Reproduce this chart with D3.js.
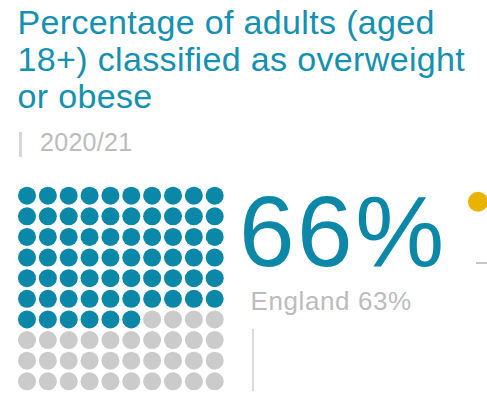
<!DOCTYPE html>
<html>
<head>
<meta charset="utf-8">
<script src="https://cdn.jsdelivr.net/npm/d3@7"></script>
<style>
  html, body { margin: 0; padding: 0; background: #fff; }
  svg { display: block; font-family: "Liberation Sans", Arial, sans-serif; }
</style>
</head>
<body>
<svg id="chart" width="487" height="404"></svg>
<script>
// Indicator values
const titleLines = ["Percentage of adults (aged", "18+) classified as overweight", "or obese"];
const period = "2020/21";
const areaValue = [66];
const englandValue = [63];
const gridCols = d3.range(10);
const gridRows = d3.range(10);

const teal = "#0b87a7";
const titleTeal = "#1490b0";
const lightGrey = "#cbcbcb";
const textGrey = "#bcbcbc";

const svg = d3.select("#chart");

// Title
svg.append("g").selectAll("text")
  .data(titleLines)
  .join("text")
  .attr("x", 17.5)
  .attr("y", (d, i) => 33.5 + i * 37)
  .attr("fill", titleTeal)
  .attr("font-size", 34)
  .attr("letter-spacing", 0.35)
  .text(d => d);

// Period with marker bar
svg.append("rect").attr("x", 19).attr("y", 132).attr("width", 3).attr("height", 25).attr("fill", "#d6d6d6");
svg.append("text").attr("x", 40).attr("y", 151).attr("fill", textGrey).attr("font-size", 25)
  .attr("letter-spacing", 0.3).text(period);

// Waffle grid: 100 dots, one per percentage point
const x = d3.scalePoint().domain(gridCols).range([27, 214.7]);
const y = d3.scalePoint().domain(gridRows).range([195.7, 381.3]);
const cells = d3.range(gridCols.length * gridRows.length).map(i => ({
  i, col: i % 10, row: Math.floor(i / 10), on: i < areaValue[0]
}));
svg.append("g").selectAll("circle")
  .data(cells)
  .join("circle")
  .attr("cx", d => x(d.col))
  .attr("cy", d => y(d.row))
  .attr("r", 9)
  .attr("fill", d => d.on ? teal : lightGrey);

// Headline value
svg.append("text").attr("x", 239).attr("y", 266)
  .attr("fill", teal).attr("font-size", 100).attr("letter-spacing", 2.5)
  .text(areaValue[0] + "%");

// Comparator
svg.append("text").attr("x", 250.5).attr("y", 310)
  .attr("fill", textGrey).attr("font-size", 26).attr("letter-spacing", 0.6)
  .text("England " + englandValue[0] + "%");
svg.append("rect").attr("x", 252).attr("y", 329).attr("width", 2).attr("height", 62).attr("fill", "#dcdcdc");

// Edge of the neighbouring panel
svg.append("circle").attr("cx", 478).attr("cy", 201.7).attr("r", 10).attr("fill", "#e8b400");
svg.append("line").attr("x1", 476).attr("x2", 487).attr("y1", 263).attr("y2", 263)
  .attr("stroke", "#a0a0a0").attr("stroke-width", 1.2);
</script>
</body>
</html>
